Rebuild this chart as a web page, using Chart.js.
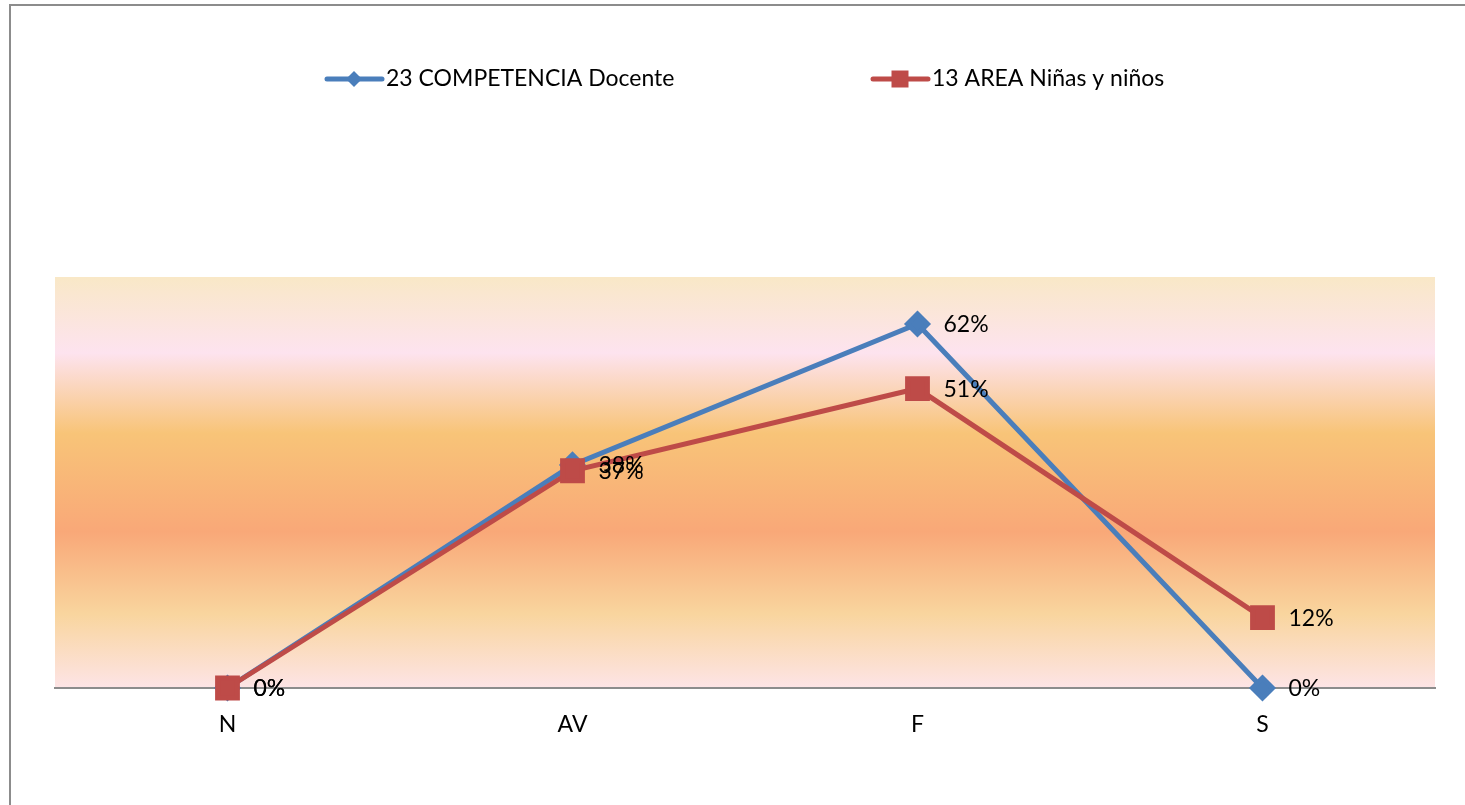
<!DOCTYPE html>
<html>
<head>
<meta charset="utf-8">
<script src="https://cdn.jsdelivr.net/npm/chart.js@4.4.0/dist/chart.umd.min.js"></script>
<style>
  html, body { margin: 0; padding: 0; background: #fff; }
  #wrap { width: 1465px; height: 805px; position: relative; }
</style>
</head>
<body>
<div id="wrap"><canvas id="chart"></canvas></div>
<script>
const categories = ['N', 'AV', 'F', 'S'];
const docenteLabel = '23 COMPETENCIA Docente';
const docenteValues = [0, 0.38, 0.62, 0];
const areaLabel = '13 AREA Niñas y niños';
const areaValues = [0, 0.37, 0.51, 0.12];

const blue = '#4a7ebb';
const red = '#be4b48';
const fontFamily = 'Lato, "Noto Sans", sans-serif';

// frame + gradient behind plot area
const backdrop = {
    id: 'backdrop',
    beforeDraw(chart) {
        const ctx = chart.ctx;
        const a = chart.chartArea;
        ctx.save();
        ctx.strokeStyle = '#8c8c8c';
        ctx.lineWidth = 2;
        ctx.beginPath();
        ctx.moveTo(10, chart.height);
        ctx.lineTo(10, 5);
        ctx.lineTo(chart.width, 5);
        ctx.stroke();

        const g = ctx.createLinearGradient(0, a.top, 0, a.bottom);
        g.addColorStop(0, '#f9e8c7');
        g.addColorStop(0.185, '#fde3ef');
        g.addColorStop(0.38, '#f8c478');
        g.addColorStop(0.62, '#f9a878');
        g.addColorStop(0.82, '#f9d59e');
        g.addColorStop(1, '#fde4e6');
        ctx.fillStyle = g;
        ctx.fillRect(a.left, a.top, a.right - a.left, a.bottom - a.top);
        ctx.restore();
    }
};

// legend drawn as line + marker, like the original
const lineLegend = {
    id: 'lineLegend',
    afterDraw(chart) {
        const ctx = chart.ctx;
        const y = 79;
        const items = [
            { x: 327, text: docenteLabel, color: blue, shape: 'diamond' },
            { x: 873, text: areaLabel, color: red, shape: 'square' }
        ];
        ctx.save();
        items.forEach(it => {
            ctx.strokeStyle = it.color;
            ctx.lineWidth = 5;
            ctx.lineCap = 'round';
            ctx.beginPath();
            ctx.moveTo(it.x, y);
            ctx.lineTo(it.x + 55, y);
            ctx.stroke();
            ctx.fillStyle = it.color;
            const cx = it.x + 27;
            ctx.beginPath();
            if (it.shape === 'diamond') {
                ctx.moveTo(cx, y - 8);
                ctx.lineTo(cx + 8, y);
                ctx.lineTo(cx, y + 8);
                ctx.lineTo(cx - 8, y);
                ctx.closePath();
            } else {
                ctx.rect(cx - 8.5, y - 8.5, 17, 17);
            }
            ctx.fill();
            ctx.fillStyle = '#000';
            ctx.font = '23px ' + fontFamily;
            ctx.textBaseline = 'middle';
            ctx.fillText(it.text, it.x + 59, y);
        });
        ctx.restore();
    }
};

// value labels to the right of each point
const valueLabels = {
    id: 'valueLabels',
    afterDatasetsDraw(chart) {
        const ctx = chart.ctx;
        ctx.save();
        ctx.fillStyle = '#000';
        ctx.font = '23px ' + fontFamily;
        ctx.textBaseline = 'middle';
        chart.data.datasets.forEach((ds, i) => {
            chart.getDatasetMeta(i).data.forEach((pt, j) => {
                ctx.fillText(Math.round(ds.data[j] * 100) + '%', pt.x + 26, pt.y + 1);
            });
        });
        ctx.restore();
    }
};

new Chart(document.getElementById('chart'), {
    type: 'line',
    data: {
        labels: categories,
        datasets: [{
            label: docenteLabel,
            data: docenteValues,
            borderColor: blue,
            backgroundColor: blue,
            borderWidth: 5,
            pointStyle: 'rectRot',
            pointRadius: 10,
            pointHoverRadius: 10,
            tension: 0,
            clip: false,
            order: 1
        }, {
            label: areaLabel,
            data: areaValues,
            borderColor: red,
            backgroundColor: red,
            borderWidth: 5,
            pointStyle: 'rect',
            pointRadius: 14,
            pointHoverRadius: 14,
            tension: 0,
            clip: false,
            order: 0
        }]
    },
    options: {
        responsive: true,
        maintainAspectRatio: false,
        animation: false,
        layout: { padding: { top: 277, left: 55, right: 30, bottom: 0 } },
        plugins: {
            legend: { display: false },
            tooltip: { enabled: false }
        },
        scales: {
            x: {
                offset: true,
                grid: { display: false, drawTicks: false },
                border: { display: true, color: '#8c8c8c', width: 2 },
                ticks: { color: '#000', font: { size: 23, family: fontFamily }, padding: 23 },
                afterFit(scale) { scale.height = 117; }
            },
            y: {
                display: false,
                min: 0,
                max: 0.7
            }
        }
    },
    plugins: [backdrop, lineLegend, valueLabels]
});
</script>
</body>
</html>
